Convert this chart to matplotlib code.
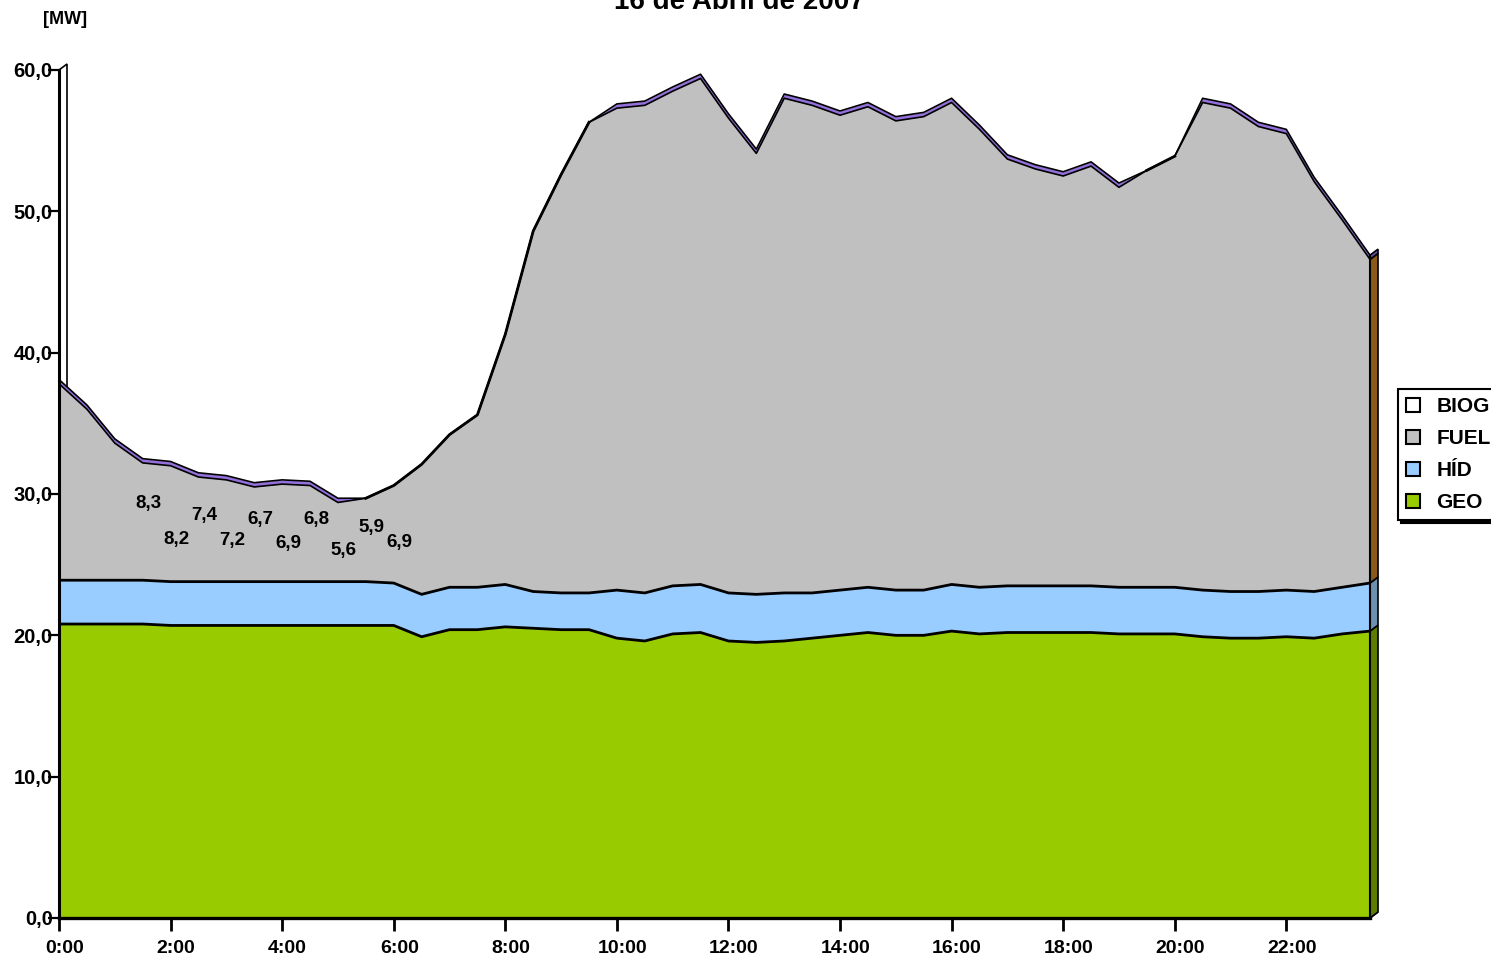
import matplotlib
matplotlib.use("Agg")
import matplotlib.pyplot as plt
import numpy as np
from matplotlib.patches import Polygon, Patch
from matplotlib.transforms import IdentityTransform, ScaledTranslation
from matplotlib.ticker import FuncFormatter, MultipleLocator

plt.rcParams['font.family'] = ['Liberation Sans', 'DejaVu Sans']
plt.rcParams['font.weight'] = 'bold'

# ---- data: half-hourly generation by source [MW] ----
hours = np.arange(48) * 0.5

geo = [20.8, 20.8, 20.8, 20.8, 20.7, 20.7, 20.7, 20.7, 20.7, 20.7,
       20.7, 20.7, 20.7, 19.9, 20.4, 20.4, 20.6, 20.5, 20.4, 20.4,
       19.8, 19.6, 20.1, 20.2, 19.6, 19.5, 19.6, 19.8, 20.0, 20.2,
       20.0, 20.0, 20.3, 20.1, 20.2, 20.2, 20.2, 20.2, 20.1, 20.1,
       20.1, 19.9, 19.8, 19.8, 19.9, 19.8, 20.1, 20.3]

hid = [3.1, 3.1, 3.1, 3.1, 3.1, 3.1, 3.1, 3.1, 3.1, 3.1,
       3.1, 3.1, 3.0, 3.0, 3.0, 3.0, 3.0, 2.6, 2.6, 2.6,
       3.4, 3.4, 3.4, 3.4, 3.4, 3.4, 3.4, 3.2, 3.2, 3.2,
       3.2, 3.2, 3.3, 3.3, 3.3, 3.3, 3.3, 3.3, 3.3, 3.3,
       3.3, 3.3, 3.3, 3.3, 3.3, 3.3, 3.3, 3.4]

fuel = [13.9, 12.1, 9.7, 8.3, 8.2, 7.4, 7.2, 6.7, 6.9, 6.8,
        5.6, 5.9, 6.9, 9.2, 10.8, 12.2, 17.7, 25.5, 29.6, 33.3,
        34.1, 34.5, 35.0, 35.8, 33.6, 31.2, 35.0, 34.5, 33.6, 34.0,
        33.2, 33.5, 34.1, 32.4, 30.2, 29.5, 29.0, 29.7, 28.3, 29.5,
        30.5, 34.5, 34.2, 32.9, 32.3, 29.0, 26.0, 22.9]

biog = [0.3, 0.3, 0.3, 0.3, 0.3, 0.3, 0.3, 0.3, 0.3, 0.3,
        0.3, 0.0, 0.0, 0.0, 0.0, 0.0, 0.0, 0.0, 0.0, 0.0,
        0.3, 0.3, 0.3, 0.3, 0.3, 0.3, 0.3, 0.3, 0.3, 0.3,
        0.3, 0.3, 0.3, 0.3, 0.3, 0.3, 0.3, 0.3, 0.3, 0.0,
        0.0, 0.3, 0.3, 0.3, 0.3, 0.3, 0.3, 0.3]

series_names = ["BIOG", "FUEL", "HÍD", "GEO"]

# FUEL values annotated during the night (1:30 - 6:00)
fuel_label_idx = [3, 4, 5, 6, 7, 8, 9, 10, 11, 12]
fuel_label_y = [29.35, 26.8, 28.5, 26.7, 28.2, 26.5, 28.2, 26.0, 27.6, 26.6]

xtick_hours = list(range(0, 24, 2))
xtick_labels = [f"{h}:00" for h in xtick_hours]
title = "16 de Abril de 2007"

# ---- styling ----
C_GEO, C_HID, C_FUEL, C_BIOG = '#99CC00', '#99CCFF', '#C0C0C0', '#9370DB'
SIDE = {'GEO': '#5E7D00', 'HÍD': '#6E8FB0', 'FUEL': '#8B5A1B', 'BIOG': '#6A4FA8'}
W, H = 1491, 958
DX, DY = 8, 6          # depth offset of the 3D look, in pixels

fig = plt.figure(figsize=(W / 100, H / 100), dpi=100)
ax = fig.add_axes([59 / W, (H - 918) / H, (1370 - 59) / W, (918 - 70) / H])
ax.set_xlim(0, 23.5)
ax.set_ylim(0, 60)

geo_a, hid_a, fuel_a, biog_a = map(np.asarray, (geo, hid, fuel, biog))
l1 = geo_a
l2 = l1 + hid_a
l3 = l2 + fuel_a
l4 = l3 + biog_a

ax.fill_between(hours, 0, l1, color=C_GEO, lw=0, zorder=3)
ax.fill_between(hours, l1, l2, color=C_HID, lw=0, zorder=3)
ax.fill_between(hours, l2, l3, color=C_FUEL, lw=0, zorder=3)
ax.fill_between(hours, l3, l4, color=C_BIOG, lw=0, zorder=3)
for lvl in (l1, l2):
    ax.plot(hours, lvl, color='black', lw=2.0, zorder=4)
for lvl in (l3, l4):
    ax.plot(hours, lvl, color='black', lw=1.2, zorder=4)
# where there is no biogas the top edge is a single heavier line
plain = np.ma.masked_where(biog_a > 0, l4)
ax.plot(hours, plain, color='black', lw=2.0, zorder=4)

# ---- 3D decorations built from the axes transform ----
T = ax.transData
idt = IdentityTransform()


def px(x, y):
    return T.transform((x, y))


def depth_quad(p, q):
    return [p, q, q + np.array([DX, DY]), p + np.array([DX, DY])]


# floor
ax.add_patch(Polygon(depth_quad(px(0, 0), px(23.5, 0)), closed=True,
                     transform=idt, facecolor='#808080', edgecolor='black',
                     lw=1.2, zorder=1, clip_on=False))
# left wall edge
ax.add_patch(Polygon(depth_quad(px(0, 0), px(0, 60)), closed=True,
                     transform=idt, facecolor='white', edgecolor='black',
                     lw=1.2, zorder=1, clip_on=False))
# right side faces of each band
xe = hours[-1]
bands = [(0, l1[-1], SIDE['GEO']), (l1[-1], l2[-1], SIDE['HÍD']),
         (l2[-1], l3[-1], SIDE['FUEL']), (l3[-1], l4[-1], SIDE['BIOG'])]
for lo, hi, col in bands:
    ax.add_patch(Polygon(depth_quad(px(xe, lo), px(xe, hi)), closed=True,
                         transform=idt, facecolor=col, edgecolor='black',
                         lw=1.2, zorder=2, clip_on=False))
ax.plot([xe, xe], [0, l4[-1]], color='black', lw=1.5, zorder=4, clip_on=False)

# ---- axes ----
for s in ('top', 'right'):
    ax.spines[s].set_visible(False)
ax.spines['left'].set_linewidth(2.2)
ax.spines['bottom'].set_linewidth(2.4)
ax.spines['left'].set_zorder(5)
ax.spines['bottom'].set_zorder(5)

ax.yaxis.set_major_locator(MultipleLocator(10))
ax.yaxis.set_major_formatter(FuncFormatter(lambda v, _: f"{v:.1f}".replace('.', ',')))
ax.tick_params(axis='y', direction='out', length=8, width=1.6, pad=-3.5,
               labelsize=14.5)
for lab in ax.get_yticklabels():
    lab.set_fontweight('bold')

ax.set_xticks(xtick_hours)
ax.set_xticklabels([])
ax.tick_params(axis='x', direction='out', length=9, width=2.0)
xlab_tr = ax.get_xaxis_transform() + ScaledTranslation(5.5 / 100, -22 / 100,
                                                        fig.dpi_scale_trans)
for h, lbl in zip(xtick_hours, xtick_labels):
    ax.text(h, 0, lbl, transform=xlab_tr, ha='center', va='top',
            fontsize=14, fontweight='bold', clip_on=False)

# ---- FUEL value labels ----
lab_tr = T + ScaledTranslation(6 / 100, 0, fig.dpi_scale_trans)
for i, yl in zip(fuel_label_idx, fuel_label_y):
    ax.text(hours[i], yl, f"{fuel[i]:.1f}".replace('.', ','), transform=lab_tr,
            ha='center', va='center', fontsize=13.5, fontweight='bold', zorder=6)

# ---- titles ----
fig.text(739 / W, 1 - 9 / H, title, ha='center', va='baseline',
         fontsize=20, fontweight='bold')
fig.text(43 / W, 1 - 20 / H, "[MW]", ha='left', va='center',
         fontsize=13, fontweight='bold')

# ---- legend ----
handles = [Patch(facecolor=c, edgecolor='black', lw=1.5)
           for c in ('white', C_FUEL, C_HID, C_GEO)]
leg = fig.legend(handles, series_names, loc='upper left',
                 bbox_to_anchor=(1398 / W, 1 - 389 / H), borderaxespad=0,
                 frameon=True, fancybox=False,
                 shadow={'color': 'black', 'alpha': 1.0},
                 prop={'size': 15, 'weight': 'bold'},
                 handlelength=0.65, handleheight=0.65, handletextpad=0.8,
                 labelspacing=0.62, borderpad=0.4)
leg.get_frame().set_edgecolor('black')
leg.get_frame().set_linewidth(1.5)

fig.savefig("out.png", dpi=100, facecolor='white')
